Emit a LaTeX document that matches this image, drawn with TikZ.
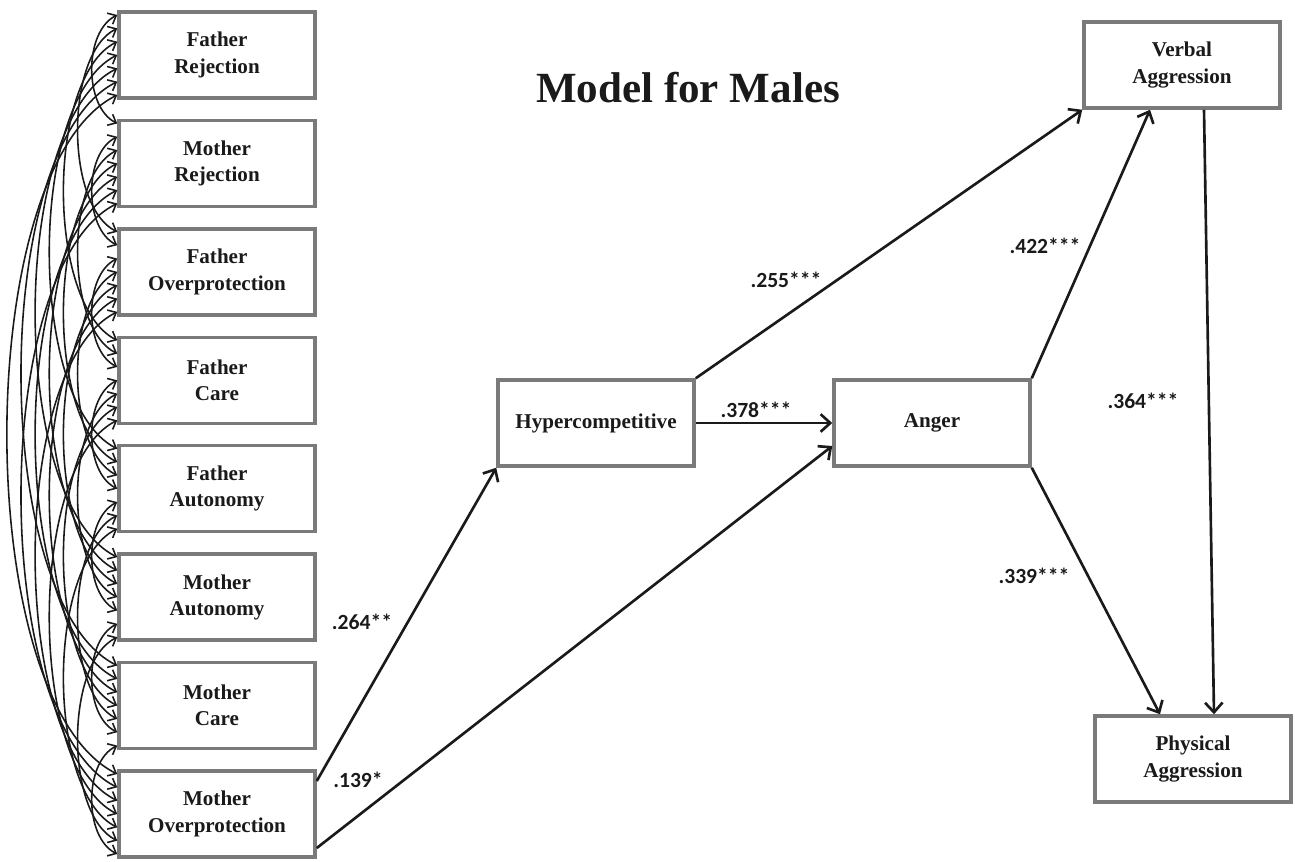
\documentclass[tikz,border=0pt]{standalone}
\usepackage{fontspec}
\setmainfont{Liberation Serif}
\newfontfamily\labelfont{Carlito}
\usetikzlibrary{arrows.meta}
\definecolor{boxgray}{HTML}{7A7A7A}
\definecolor{inkblack}{HTML}{1A1A1A}

\begin{document}
\begin{tikzpicture}[
    box/.style = {draw = boxgray, line width = 2pt, fill = white,
                  minimum width = 3.92cm, minimum height = 1.72cm,
                  inner sep = 0pt, align = center, text = inkblack,
                  font = \bfseries\fontsize{12}{15}\selectfont},
    effect/.style = {->, draw = inkblack, line width = 1.5pt},
    cov/.style = {arrows = {Straight Barb[length = 4pt, width = 7pt]-Straight Barb[length = 4pt, width = 7pt]},
                  draw = inkblack, line width = .9pt},
    coef/.style = {font = \labelfont\bfseries\fontsize{12.3}{14}\selectfont, text = inkblack},
    > = {Straight Barb[length = 5.5pt, width = 10pt]}
  ]
  \useasboundingbox (0,0) rectangle (25.9,17.22);

  % parenting variables
  \foreach \txt [count = \k] in {{Father\\Rejection}, {Mother\\Rejection},
      {Father\\Overprotection}, {Father\\Care}, {Father\\Autonomy},
      {Mother\\Autonomy}, {Mother\\Care}, {Mother\\Overprotection}}
    \node [box] (par\k) at (4.34, {16.12 - (\k - 1)*2.1686}) {\txt};

  % correlations between them
  \foreach \i in {1,...,7} {
    \pgfmathtruncatemacro{\first}{\i + 1}
    \foreach \j in {\first,...,8} {
      \pgfmathsetmacro{\ya}{0.8 - (\j - 2)*0.2667}
      \pgfmathsetmacro{\yb}{0.8 - (\i - 1)*0.2667}
      \pgfmathsetmacro{\cx}{0.67 + (\j - \i - 1)*0.377}
      \pgfmathsetmacro{\cy}{0.5*\cx}
      \draw [cov] ([yshift = \ya cm]par\i.west)
        .. controls +(-\cx, -\cy) and +(-\cx, \cy) .. ([yshift = \yb cm]par\j.west);
    }
  }

  \node [font = \bfseries\fontsize{24.5}{28}\selectfont, text = inkblack] (title) at (13.76, 15.46) {Model for Males};

  \node [box] (hyper) at (11.92, 8.76) {Hypercompetitive};
  \node [box] (anger) at (18.64, 8.76) {Anger};
  \node [box] (verbal) at (23.64, 15.92) {Verbal\\Aggression};
  \node [box] (physical) at (23.86, 2.04) {Physical\\Aggression};

  \draw [effect] ([yshift = .66cm]par8.east) -- (hyper.south west);
  \draw [effect] ([yshift = -.68cm]par8.east) -- ([yshift = -.46cm]anger.west);
  \draw [effect] (hyper.north east) -- (verbal.south west);
  \draw [effect] (hyper.east) -- (anger.west);
  \draw [effect] (anger.north east) -- ([xshift = -.64cm]verbal.south);
  \draw [effect] (anger.south east) -- ([xshift = -.66cm]physical.north);
  \draw [effect] ([xshift = .44cm]verbal.south) -- ([xshift = .42cm]physical.north);

  \node [coef] (c264) at (7.24, 4.78) {.264**};
  \node [coef] (c139) at (7.16, 1.62) {.139*};
  \node [coef] (c255) at (15.72, 11.62) {.255***};
  \node [coef] (c378) at (15.12, 9.02) {.378***};
  \node [coef] (c422) at (20.9, 12.3) {.422***};
  \node [coef] (c364) at (22.86, 9.2) {.364***};
  \node [coef] (c339) at (20.68, 5.7) {.339***};
\end{tikzpicture}
\end{document}
